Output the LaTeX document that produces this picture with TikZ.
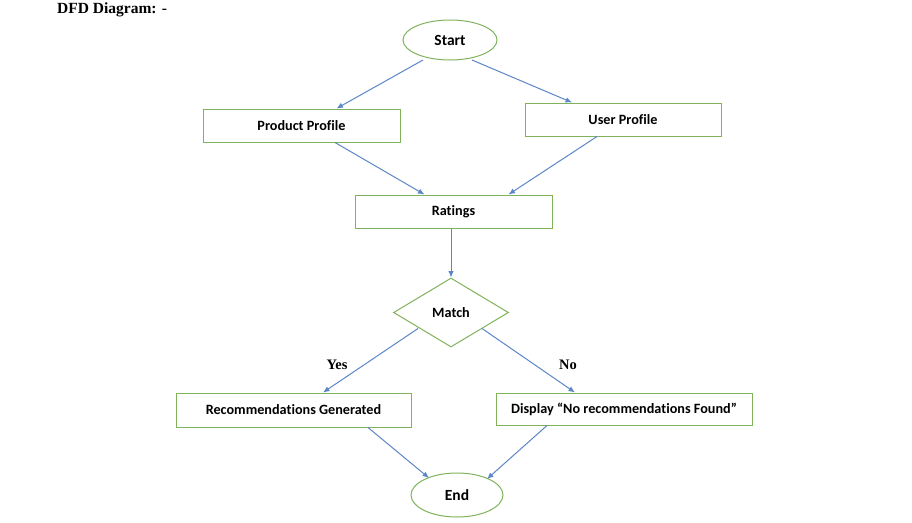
\documentclass[tikz,border=0pt]{standalone}
\usepackage{fontspec}
\setmainfont{Liberation Serif}
\newfontfamily\boxfont[RawFeature=-liga]{Carlito}
\usetikzlibrary{shapes.geometric,arrows.meta,calc}
\definecolor{boxgreen}{HTML}{7FB25A}
\definecolor{arrowblue}{HTML}{5B86C8}
\tikzset{
  procbox/.style={draw=boxgreen, line width=1pt, rectangle, inner sep=0pt, font=\boxfont\bfseries\fontsize{14.2}{16}\selectfont},
  termbox/.style={draw=boxgreen, line width=1pt, ellipse, inner sep=0pt, font=\boxfont\bfseries\fontsize{15.5}{17}\selectfont},
  decbox/.style={draw=boxgreen, line width=1pt, diamond, inner sep=0pt, font=\boxfont\bfseries\fontsize{14.2}{16}\selectfont},
  flow/.style={draw=arrowblue, line width=1pt, -{Latex[length=6.5pt,width=5.5pt]}},
  branchlabel/.style={font=\bfseries\fontsize{14.5}{16}\selectfont, inner sep=0pt}
}
\begin{document}
\begin{tikzpicture}[x=1pt,y=-1pt]
\useasboundingbox (0,0) rectangle (912,522);
\node[anchor=west, font=\bfseries\fontsize{15.5}{17}\selectfont, inner sep=0pt] (title) at (57,10) {DFD Diagram: -};

\node[termbox, minimum width=94pt, minimum height=40pt] (start) at (450,40) {Start};
\node[procbox, minimum width=197pt, minimum height=33pt] (prod) at (301.5,125.5) {Product Profile};
\node[procbox, minimum width=196pt, minimum height=33pt] (user) at (623,119.5) {User Profile};
\node[procbox, minimum width=197pt, minimum height=33pt] (rat) at (453.5,211.5) {Ratings};
\node[decbox, minimum width=115pt, minimum height=69pt] (match) at (451,312.5) {Match};
\node[procbox, minimum width=235pt, minimum height=34pt] (rec) at (293.5,410) {Recommendations Generated};
\node[procbox, minimum width=256pt, minimum height=32pt] (disp) at (624,409) {Display “No recommendations Found”};
\node[termbox, minimum width=92pt, minimum height=44pt] (end) at (457,495) {End};

\node[branchlabel] (yes) at (337,365) {Yes};
\node[branchlabel] (no) at (568,365) {No};

\draw[flow] ($(start)+(-27,20)$) -- ($(prod.north)+(35,0)$);
\draw[flow] ($(start)+(22,20)$) -- ($(user.north)+(-51,0)$);
\draw[flow] ($(prod.south)+(33.5,0)$) -- ($(rat.north)+(-29,0)$);
\draw[flow] ($(user.south)+(-26,0)$) -- ($(rat.north)+(55,0)$);
\draw[flow] (match.north |- rat.south) -- (match.north);
\draw[flow] ($(match)+(-33,16)$) -- ($(rec.north)+(29.5,0)$);
\draw[flow] ($(match)+(31,16)$) -- ($(disp.north)+(-49,0)$);
\draw[flow] ($(rec.south)+(74.5,0)$) -- ($(end)+(-28,-17)$);
\draw[flow] ($(disp.south)+(-77,0)$) -- ($(end)+(30,-16)$);
\end{tikzpicture}
\end{document}
